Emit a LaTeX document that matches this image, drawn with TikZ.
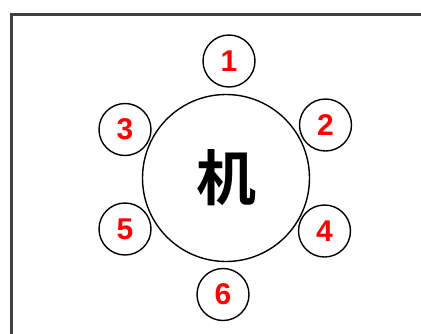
\documentclass[tikz,border=0pt]{standalone}
\usepackage{fontspec}
\setmainfont{Liberation Sans}
\newfontfamily\cjk{Noto Sans CJK SC Bold}
\begin{document}
\begin{tikzpicture}[x=1pt,y=-1pt,
  seat/.style={circle,draw=black,line width=1.4pt,minimum size=52pt,inner sep=0pt,
    text=red,font=\fontsize{30}{30}\selectfont\bfseries},
  desk/.style={circle,draw=black,line width=1.4pt,minimum size=167pt,inner sep=0pt,
    font=\fontsize{60}{60}\cjk}]
\useasboundingbox (0,0) rectangle (421,333);
\clip (0,0) rectangle (421,333);
\draw[line width=2.3pt,draw=black!75] (11.5,345) -- (11.5,14.5) -- (435,14.5);
\node[desk] (d) at (226,178) {机};
\node[seat] (s1) at (229,61) {1};
\node[seat] (s2) at (325.5,125) {2};
\node[seat] (s3) at (125,129.5) {3};
\node[seat] (s4) at (324.5,231) {4};
\node[seat] (s5) at (125,229) {5};
\node[seat] (s6) at (223,294.5) {6};
\end{tikzpicture}
\end{document}
